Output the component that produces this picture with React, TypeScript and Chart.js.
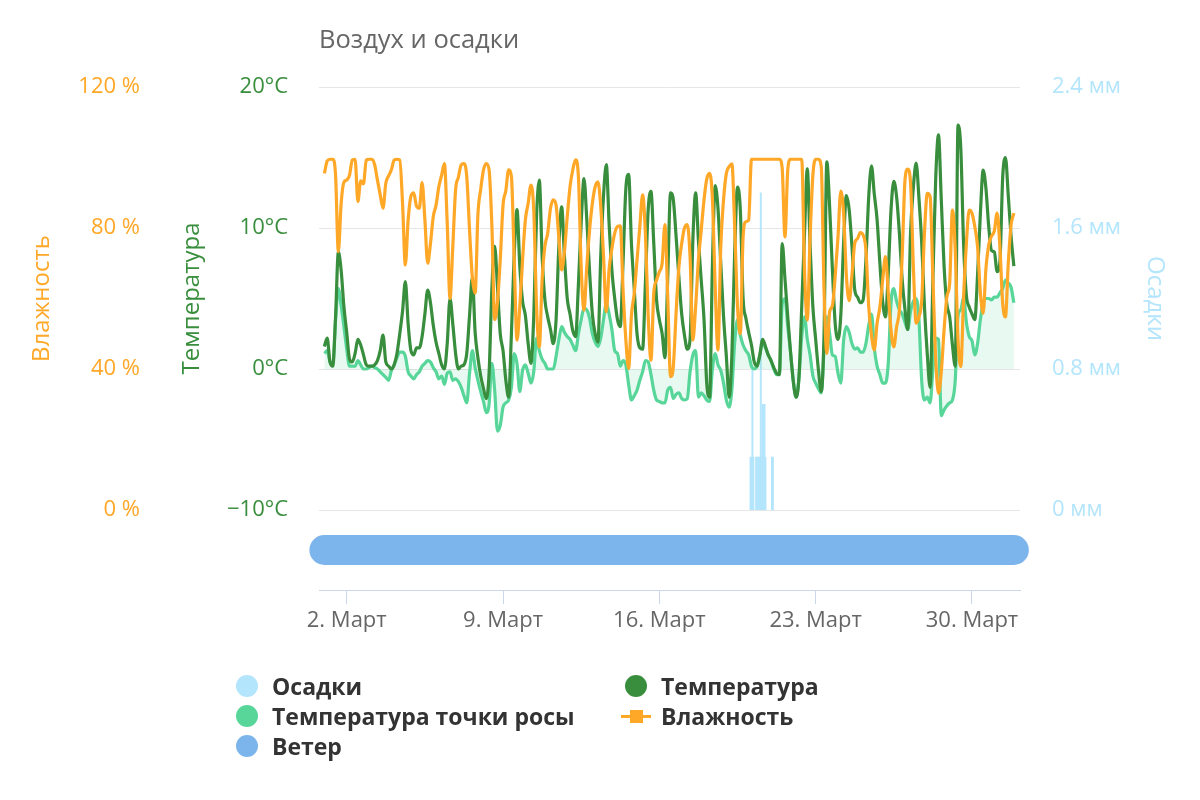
import React, { useEffect, useRef } from 'react';
import { Chart, registerables } from 'chart.js';

Chart.register(...registerables);

const FONT = '"Open Sans", "DejaVu Sans", sans-serif';

// Time axis: hours since 1 March 00:00, one reading every 3 hours
const STEP_HOURS = 3;
const monthName = 'Март';
const xTickDays = [2, 9, 16, 23, 30];

const temperature = [
  1.6, 2.2, 0.5, 0.2, 3.7, 8.3, 7.0, 4.4,
  2.6, 0.7, 0.5, 1.1, 2.1, 1.7, 1.0, 0.3,
  0.2, 0.2, 0.3, 0.6, 1.3, 2.4, 0.5, 0.2,
  0.0, 0.3, 1.1, 2.5, 4.1, 6.2, 3.2, 1.3,
  1.0, 1.5, 1.5, 2.3, 3.9, 5.6, 4.7, 3.1,
  1.9, 1.1, 0.3, 0.0, 1.8, 5.0, 3.2, 1.1,
  0.0, 0.2, 0.3, 1.1, 3.8, 6.5, 2.6, 0.8,
  -0.5, -1.4, -2.1, -0.3, 5.7, 8.7, 5.8, 2.5,
  1.3, -0.8, -2.0, 2.5, 8.1, 11.3, 7.3, 4.8,
  3.8, 1.8, 0.4, 3.7, 10.8, 13.4, 8.0, 4.9,
  3.7, 2.8, 1.8, 3.5, 8.7, 11.5, 8.0, 5.0,
  3.9, 2.7, 2.3, 6.0, 10.4, 13.5, 10.6, 6.9,
  3.9, 2.5, 1.9, 8.0, 12.3, 14.5, 10.3, 7.0,
  5.0, 3.5, 3.0, 7.6, 12.8, 13.8, 8.9, 5.7,
  2.5, 1.5, 1.4, 6.1, 11.3, 12.6, 8.9, 4.9,
  3.5, 2.5, 0.8, 6.5, 12.5, 12.0, 9.4, 6.5,
  3.9, 2.4, 1.4, 2.1, 9.1, 12.5, 9.1, 6.3,
  3.5, -1.1, -2.0, 7.3, 13.0, 11.4, 7.5, 3.7,
  0.9, -2.0, 1.1, 8.4, 12.9, 11.3, 5.0, 3.6,
  2.6, 1.7, 0.5, 0.2, 1.0, 2.1, 1.6, 1.0,
  0.6, 0.1, -0.3, -0.4, 8.9, 6.4, 3.7, 1.2,
  -0.9, -2.0, -0.6, 4.4, 9.6, 14.2, 8.8, 4.4,
  2.1, -0.1, -1.6, 2.5, 14.7, 11.5, 7.0, 3.2,
  2.1, 3.8, 8.9, 12.3, 11.3, 8.7, 5.6, 5.1,
  4.7, 4.9, 7.7, 12.2, 14.4, 12.4, 10.6, 7.5,
  4.8, 3.7, 6.8, 11.3, 13.3, 12.2, 9.6, 6.3,
  4.2, 2.8, 9.7, 12.9, 14.6, 12.1, 8.9, 4.3,
  1.0, -1.3, 6.4, 13.5, 16.6, 12.0, 7.3, 4.6,
  3.7, 1.7, 0.2, 17.3, 15.6, 8.8, 5.2, 4.4,
  3.9, 3.5, 6.7, 11.0, 14.1, 12.8, 10.1, 8.4,
  8.3, 6.9, 7.6, 13.6, 15.0, 12.3, 9.4, 7.3,
];

const dewPoint = [
  1.1, 1.3, 0.5, 0.3, 3.5, 5.7, 4.5, 3.0,
  1.4, 0.2, 0.2, 0.2, 0.6, 0.3, 0.0, 0.0,
  0.1, 0.2, 0.1, 0.0, -0.2, -0.4, -0.6, -0.8,
  -0.1, 0.3, 0.8, 1.2, 1.2, 0.9, -0.2, -0.5,
  -0.7, -0.4, -0.2, 0.2, 0.4, 0.6, 0.5, 0.1,
  -0.2, -0.7, -0.5, -1.1, -0.3, -0.2, -0.8, -0.7,
  -0.9, -1.3, -1.9, -2.4, -0.3, 1.3, 0.1, -0.8,
  -1.6, -2.3, -3.1, -2.5, 0.4, -1.5, -4.4, -4.0,
  -2.7, -2.4, -2.2, -1.3, 1.1, 0.4, -1.6, -0.1,
  0.3, -0.3, -1.0, -0.2, 2.2, 1.3, 0.7, 0.4,
  0.0, 0.0, 0.0, 0.9, 2.1, 3.0, 2.6, 2.3,
  2.1, 1.7, 1.3, 2.5, 3.5, 4.3, 4.2, 3.6,
  2.5, 1.9, 1.6, 2.2, 3.5, 4.7, 3.9, 2.8,
  1.3, 1.1, 0.2, 0.6, 0.3, -1.1, -2.2, -1.9,
  -1.5, -0.8, -0.2, 0.6, 0.5, -0.4, -1.5, -2.2,
  -2.3, -2.4, -2.4, -1.5, -1.3, -2.1, -1.8, -1.7,
  -2.1, -2.2, -2.1, -0.2, 1.0, 1.3, -2.0, -1.7,
  -1.9, -2.2, -2.3, 0.0, 1.1, 0.3, -0.1, -1.0,
  -2.2, -2.7, -1.4, 1.9, 3.5, 2.4, 1.7, 1.3,
  1.0, 0.2, 0.0, 0.2, 1.0, 1.9, 1.5, 1.0,
  0.6, 0.0, -0.4, -0.4, 4.6, 5.0, 3.0, 1.2,
  -0.9, -2.0, -0.7, 2.3, 3.7, 2.1, 1.0, -0.5,
  -1.0, -1.4, -1.7, 1.4, 3.7, 2.5, 1.0, 0.9,
  -0.3, -1.0, 2.0, 3.0, 2.6, 1.8, 1.4, 1.5,
  1.2, 1.2, 1.8, 3.1, 3.9, 1.5, 0.2, -0.4,
  -1.0, -1.0, 0.4, 4.7, 5.7, 4.8, 4.2, 3.9,
  3.3, 2.8, 4.1, 4.8, 5.0, 3.5, -0.9, -2.2,
  -2.0, -2.4, 0.0, 2.2, 2.1, -3.3, -2.9, -2.6,
  -2.4, -2.2, -0.8, 3.8, 4.2, 5.1, 3.3, 2.3,
  2.0, 1.0, 1.8, 3.5, 4.7, 5.0, 5.0, 4.9,
  5.1, 5.1, 5.4, 5.7, 6.3, 6.1, 5.8, 4.7,
];

const humidity = [
  95.5, 99.0, 99.5, 99.5, 95.0, 73.3, 87.0, 93.0,
  93.6, 95.0, 99.3, 99.5, 87.5, 93.4, 92.5, 99.3,
  99.5, 99.5, 98.0, 93.6, 89.4, 85.6, 92.7, 94.8,
  96.5, 99.3, 99.5, 99.3, 87.0, 69.5, 82.3, 89.0,
  90.0, 86.2, 85.6, 92.9, 82.3, 70.0, 75.6, 83.2,
  86.5, 91.7, 95.0, 98.3, 81.3, 60.0, 74.7, 90.8,
  94.4, 97.9, 98.3, 94.6, 79.4, 66.0, 61.5, 83.8,
  91.0, 96.5, 98.3, 96.5, 80.6, 54.0, 59.0, 71.0,
  86.5, 90.6, 96.5, 94.6, 71.0, 48.2, 57.7, 71.0,
  82.3, 87.0, 92.2, 85.1, 57.7, 46.3, 65.4, 74.9,
  78.5, 85.6, 88.0, 86.5, 77.1, 68.1, 73.3, 83.2,
  91.7, 96.6, 99.3, 94.6, 68.7, 56.7, 69.0, 79.4,
  87.0, 91.7, 93.1, 86.2, 71.9, 56.3, 68.3, 74.2,
  78.5, 80.4, 80.6, 62.4, 48.2, 40.2, 55.3, 61.4,
  70.9, 80.4, 89.4, 78.5, 55.0, 42.5, 61.5, 65.2,
  67.6, 70.0, 81.0, 60.5, 37.8, 40.7, 56.0, 69.0,
  75.6, 80.0, 81.0, 71.9, 48.2, 57.7, 71.0, 79.4,
  88.0, 94.0, 95.5, 88.4, 63.4, 45.4, 74.7, 88.0,
  95.5, 97.4, 98.2, 79.9, 57.7, 50.0, 77.5, 81.8,
  82.3, 99.5, 99.5, 99.5, 99.5, 99.5, 99.5, 99.5,
  99.5, 99.5, 99.5, 99.5, 97.0, 77.5, 96.5, 99.5,
  99.5, 99.5, 99.5, 99.5, 68.0, 53.9, 77.5, 95.0,
  99.5, 99.5, 97.4, 62.4, 44.4, 56.2, 58.0, 66.4,
  77.5, 90.5, 84.2, 66.5, 59.4, 66.7, 75.7, 77.0,
  78.7, 78.0, 73.8, 57.7, 49.6, 45.4, 53.0, 57.5,
  65.2, 71.9, 61.7, 51.0, 46.3, 52.0, 56.7, 72.3,
  93.6, 96.7, 92.7, 69.0, 53.0, 54.8, 59.6, 79.0,
  89.8, 88.9, 65.7, 43.0, 33.1, 39.2, 51.0, 60.5,
  64.3, 85.1, 73.8, 48.2, 40.7, 60.5, 75.7, 85.1,
  84.2, 80.4, 74.7, 61.7, 55.8, 68.5, 75.2, 77.7,
  79.2, 84.2, 74.7, 58.6, 54.8, 70.0, 80.8, 84.2,
];

// Precipitation (hourly, mm) — only hours with rain
const precipHours = [458, 459, 460, 461, 464, 465, 466, 467, 468, 469, 470, 471, 472, 473, 474, 481, 482];
const precipValues = [0.3, 0.3, 0.8, 0.3, 0.3, 0.3, 0.3, 0.3, 0.3, 1.8, 0.3, 0.6, 0.6, 0.6, 0.3, 0.3, 0.3];

// Wind row: drawn as one band across the whole period
const windHours = [0, 741];
const windLevel = [1, 1];

const tempTicks = [-10, 0, 10, 20];
const humidityTicks = [0, 40, 80, 120];
const precipTicks = [0, 0.8, 1.6, 2.4];

const COLORS = {
  temp: '#388e3c',
  dew: '#58d69a',
  dewFill: 'rgba(88, 214, 154, 0.14)',
  hum: '#ffa726',
  precip: '#b3e5fc',
  wind: '#7cb5ec',
};

const legendItems = [
  { label: 'Осадки', color: COLORS.precip, kind: 'circle' },
  { label: 'Температура', color: COLORS.temp, kind: 'circle' },
  { label: 'Температура точки росы', color: COLORS.dew, kind: 'circle' },
  { label: 'Влажность', color: COLORS.hum, kind: 'line' },
  { label: 'Ветер', color: COLORS.wind, kind: 'circle' },
];

const series = (vals: number[]) => vals.map((v, i) => ({ x: i * STEP_HOURS, y: v }));

export default function App() {
  const ref = useRef<HTMLCanvasElement>(null);

  useEffect(() => {
    if (!ref.current) return;
    Chart.defaults.font.family = FONT;
    const chart = new Chart(ref.current, {
      type: 'line',
      data: {
        datasets: [
          {
            type: 'line',
            label: 'Ветер',
            data: windHours.map((h, i) => ({ x: h, y: windLevel[i] })),
            xAxisID: 'x',
            yAxisID: 'yWind',
            borderColor: COLORS.wind,
            backgroundColor: COLORS.wind,
            borderWidth: 30,
            borderCapStyle: 'round',
            pointRadius: 0,
            clip: false,
            order: 1,
          },
          {
            type: 'line',
            label: 'Влажность',
            data: series(humidity),
            xAxisID: 'x',
            yAxisID: 'yHum',
            borderColor: COLORS.hum,
            backgroundColor: COLORS.hum,
            borderWidth: 3.2,
            pointRadius: 0,
            cubicInterpolationMode: 'monotone',
            order: 2,
          },
          {
            type: 'line',
            label: 'Температура',
            data: series(temperature),
            xAxisID: 'x',
            yAxisID: 'yTemp',
            borderColor: COLORS.temp,
            backgroundColor: COLORS.temp,
            borderWidth: 3.2,
            pointRadius: 0,
            cubicInterpolationMode: 'monotone',
            order: 3,
          },
          {
            type: 'line',
            label: 'Температура точки росы',
            data: series(dewPoint),
            xAxisID: 'x',
            yAxisID: 'yTemp',
            borderColor: COLORS.dew,
            backgroundColor: COLORS.dewFill,
            fill: 'origin',
            borderWidth: 3.2,
            pointRadius: 0,
            cubicInterpolationMode: 'monotone',
            order: 4,
          },
          {
            type: 'bar',
            label: 'Осадки',
            data: precipHours.map((h, i) => ({ x: h, y: precipValues[i] })),
            xAxisID: 'x',
            yAxisID: 'yPrecip',
            backgroundColor: COLORS.precip,
            borderWidth: 0,
            barThickness: 1.3,
            order: 5,
          } as any,
        ],
      },
      options: {
        responsive: false,
        animation: false,
        events: [],
        layout: { padding: { top: 0, left: 0, right: 0, bottom: 160 } },
        plugins: {
          legend: { display: false },
          tooltip: { enabled: false },
          title: {
            display: true,
            text: 'Воздух и осадки',
            align: 'start',
            fullSize: false,
            color: '#666666',
            font: { size: 25.5, weight: 'normal', family: FONT },
            padding: { top: 25, bottom: 31.4 },
          },
        },
        scales: {
          x: {
            type: 'linear',
            position: 'bottom',
            min: -5.8,
            max: 747.6,
            offset: false,
            afterBuildTicks: (s: any) => {
              s.ticks = xTickDays.map((d) => ({ value: (d - 1) * 24 }));
            },
            ticks: {
              autoSkip: false,
              maxRotation: 0,
              color: '#666666',
              padding: 4,
              font: { size: 22, family: FONT },
              callback: (v: any) => `${Math.round(Number(v) / 24) + 1}. ${monthName}`,
            },
            grid: { offset: false, drawOnChartArea: false, drawTicks: true, tickLength: 14, tickColor: '#ccd6eb' },
            border: { color: '#ccd6eb', width: 1 },
            afterFit: (s: any) => {
              s.height = 50;
            },
          },
          yWind: {
            type: 'linear',
            position: 'left',
            stack: 'temp',
            stackWeight: 80,
            display: false,
            min: 0,
            max: 2,
          },
          yTemp: {
            type: 'linear',
            position: 'left',
            stack: 'temp',
            stackWeight: 423,
            min: -10,
            max: 20,
            afterBuildTicks: (s: any) => {
              s.ticks = tempTicks.map((v) => ({ value: v }));
            },
            ticks: {
              color: COLORS.temp,
              padding: 31,
              font: { size: 22, family: FONT },
              callback: (v: any) => `${String(v).replace('-', '−')}°C`,
            },
            grid: { color: '#e6e6e6', lineWidth: 1, drawTicks: false },
            border: { display: false },
            title: {
              display: true,
              text: 'Температура',
              color: COLORS.temp,
              font: { size: 24, family: FONT },
              padding: { top: 17.6, bottom: 0 },
            },
            afterFit: (s: any) => {
              s.width = 159;
            },
          },
          yHumPad: {
            type: 'linear',
            position: 'left',
            stack: 'hum',
            stackWeight: 80,
            display: false,
          },
          yHum: {
            type: 'linear',
            position: 'left',
            stack: 'hum',
            stackWeight: 423,
            min: 0,
            max: 120,
            afterBuildTicks: (s: any) => {
              s.ticks = humidityTicks.map((v) => ({ value: v }));
            },
            ticks: {
              color: COLORS.hum,
              padding: 20,
              font: { size: 22, family: FONT },
              callback: (v: any) => `${v} %`,
            },
            grid: { display: false, drawTicks: false },
            border: { display: false },
            title: {
              display: true,
              text: 'Влажность',
              color: COLORS.hum,
              font: { size: 24, family: FONT },
              padding: { top: 27.6, bottom: 0 },
            },
            afterFit: (s: any) => {
              s.width = 160;
            },
          },
          yPrecip: {
            type: 'linear',
            position: 'right',
            stack: 'precip',
            stackWeight: 423,
            min: 0,
            max: 2.4,
            afterBuildTicks: (s: any) => {
              s.ticks = precipTicks.map((v) => ({ value: v }));
            },
            ticks: {
              color: COLORS.precip,
              padding: 32,
              font: { size: 22, family: FONT },
              callback: (v: any) => `${Number(v) === 0 ? '0' : Number(v).toFixed(1)} мм`,
            },
            grid: { display: false, drawTicks: false },
            border: { display: false },
            title: {
              display: true,
              text: 'Осадки',
              color: COLORS.precip,
              font: { size: 24, family: FONT },
              padding: { top: 30.6, bottom: 0 },
            },
            afterFit: (s: any) => {
              s.width = 180;
            },
          },
          yPrecipPad: {
            type: 'linear',
            position: 'right',
            stack: 'precip',
            stackWeight: 80,
            display: false,
          },
        },
      } as any,
    });
    return () => chart.destroy();
  }, []);

  return (
    <div style={{ position: 'absolute', left: 0, top: 0, width: 1200, height: 800, background: '#ffffff', fontFamily: FONT }}>
      <canvas ref={ref} width={1200} height={800} style={{ display: 'block', width: 1200, height: 800 }} />
      <div
        style={{
          position: 'absolute',
          left: 232,
          top: 671,
          display: 'grid',
          gridTemplateColumns: '389px auto',
        }}
      >
        {legendItems.map((item) => (
          <div key={item.label} style={{ display: 'flex', alignItems: 'center', height: 30 }}>
            <span style={{ width: 30, height: 30, display: 'flex', alignItems: 'center', justifyContent: 'center', position: 'relative' }}>
              {item.kind === 'circle' ? (
                <span style={{ width: 22, height: 22, borderRadius: '50%', background: item.color, display: 'block' }} />
              ) : (
                <>
                  <span style={{ position: 'absolute', left: 0, width: 30, top: 13.5, height: 3, background: item.color }} />
                  <span style={{ width: 13, height: 13, background: item.color, display: 'block', position: 'relative' }} />
                </>
              )}
            </span>
            <span style={{ marginLeft: 10, fontWeight: 700, fontSize: 23, color: '#333333', whiteSpace: 'nowrap', lineHeight: '30px' }}>
              {item.label}
            </span>
          </div>
        ))}
      </div>
    </div>
  );
}
